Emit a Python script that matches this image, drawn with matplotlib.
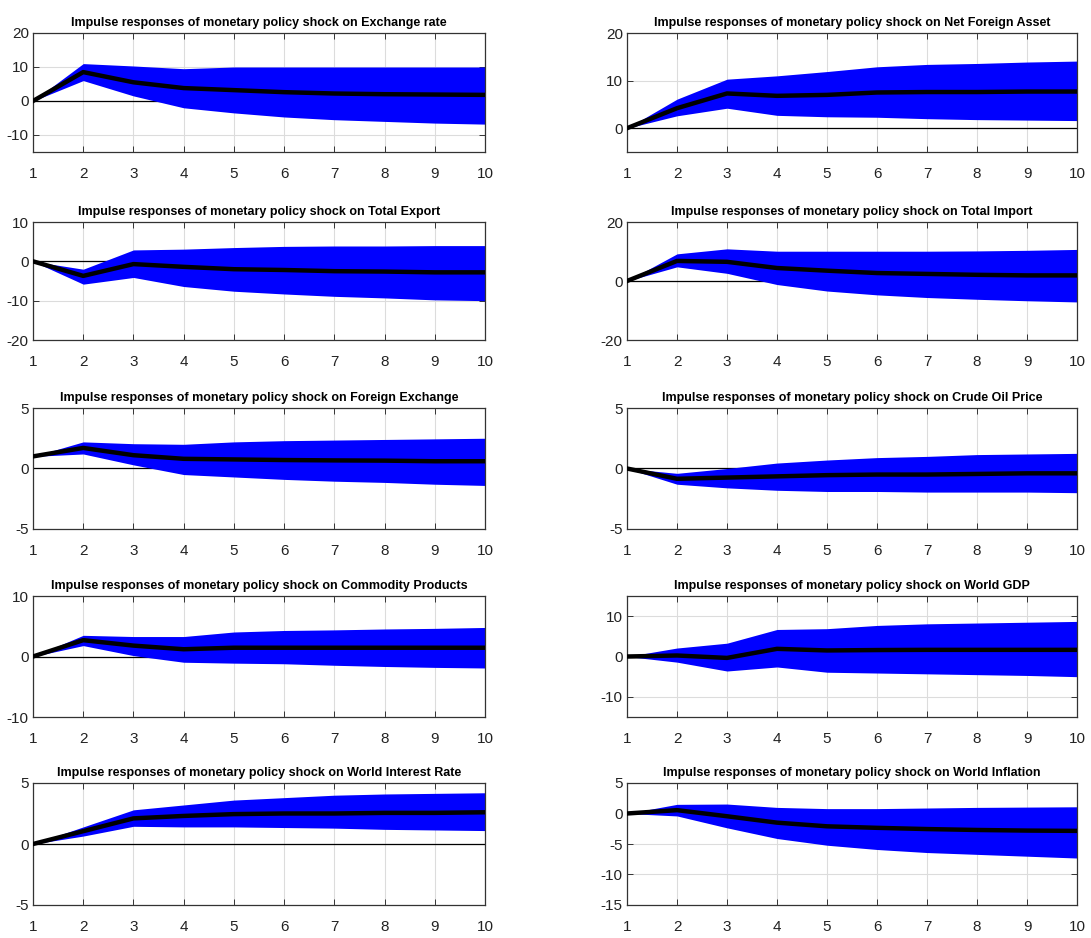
import numpy as np
import matplotlib
matplotlib.use("Agg")
import matplotlib.pyplot as plt

plt.rcParams['font.family'] = ['Liberation Sans', 'DejaVu Sans']
plt.rcParams['axes.unicode_minus'] = False

horizon = [1, 2, 3, 4, 5, 6, 7, 8, 9, 10]

# response = median line, lo / hi = band
exch_med = [0, 8.5, 5.5, 3.8, 3.2, 2.6, 2.2, 2.0, 1.9, 1.8]
exch_hi = [0, 11.0, 10.3, 9.5, 10.0, 10.0, 10.0, 10.0, 10.0, 10.0]
exch_lo = [0, 6.0, 1.5, -2.0, -3.5, -4.7, -5.5, -6.0, -6.5, -6.8]

nfa_med = [0, 4.2, 7.3, 6.8, 7.0, 7.5, 7.6, 7.6, 7.7, 7.7]
nfa_hi = [0, 6.1, 10.3, 11.0, 11.9, 12.9, 13.4, 13.6, 13.9, 14.1]
nfa_lo = [0, 2.6, 4.2, 2.7, 2.4, 2.3, 2.0, 1.8, 1.7, 1.6]

exp_med = [0, -3.7, -0.7, -1.4, -2.0, -2.2, -2.5, -2.6, -2.8, -2.8]
exp_hi = [0, -2.0, 2.9, 3.1, 3.5, 3.8, 3.9, 3.9, 4.0, 4.0]
exp_lo = [0, -5.8, -4.1, -6.4, -7.6, -8.3, -8.9, -9.3, -9.8, -10.0]

imp_med = [0, 6.8, 6.5, 4.4, 3.5, 2.7, 2.4, 2.1, 1.9, 1.9]
imp_hi = [0, 9.2, 10.9, 10.1, 10.1, 10.1, 10.1, 10.2, 10.4, 10.7]
imp_lo = [0, 4.8, 2.6, -1.2, -3.4, -4.7, -5.6, -6.2, -6.7, -7.1]

fx_med = [1.0, 1.7, 1.1, 0.8, 0.75, 0.7, 0.67, 0.65, 0.6, 0.6]
fx_hi = [1.0, 2.2, 2.05, 2.0, 2.2, 2.3, 2.35, 2.4, 2.45, 2.5]
fx_lo = [1.0, 1.2, 0.3, -0.5, -0.7, -0.9, -1.05, -1.15, -1.3, -1.4]

oil_med = [0, -0.85, -0.75, -0.65, -0.55, -0.5, -0.5, -0.45, -0.4, -0.4]
oil_hi = [0, -0.4, 0.0, 0.45, 0.7, 0.9, 1.0, 1.15, 1.2, 1.25]
oil_lo = [0, -1.3, -1.6, -1.8, -1.9, -1.9, -1.95, -1.95, -1.95, -2.0]

com_med = [0, 2.7, 1.8, 1.2, 1.45, 1.45, 1.45, 1.45, 1.45, 1.45]
com_hi = [0, 3.5, 3.3, 3.3, 4.05, 4.3, 4.4, 4.55, 4.65, 4.8]
com_lo = [0, 1.8, 0.15, -0.95, -1.1, -1.2, -1.45, -1.65, -1.8, -1.9]

gdp_med = [0, 0.25, -0.35, 1.9, 1.5, 1.6, 1.65, 1.65, 1.65, 1.65]
gdp_hi = [0, 2.1, 3.3, 6.7, 6.9, 7.7, 8.1, 8.3, 8.5, 8.7]
gdp_lo = [0, -1.4, -3.6, -2.6, -3.9, -4.1, -4.3, -4.5, -4.7, -5.0]

wir_med = [0, 1.05, 2.1, 2.3, 2.45, 2.5, 2.5, 2.55, 2.55, 2.6]
wir_hi = [0, 1.4, 2.8, 3.2, 3.6, 3.8, 4.0, 4.1, 4.15, 4.2]
wir_lo = [0, 0.65, 1.45, 1.4, 1.4, 1.35, 1.3, 1.2, 1.15, 1.1]

infl_med = [0, 0.55, -0.45, -1.5, -2.1, -2.35, -2.55, -2.7, -2.8, -2.85]
infl_hi = [0, 1.5, 1.55, 1.0, 0.8, 0.8, 0.9, 1.0, 1.05, 1.1]
infl_lo = [0, -0.4, -2.35, -4.1, -5.2, -5.9, -6.4, -6.7, -7.0, -7.3]

variables = ["Exchange rate", "Net Foreign Asset", "Total Export", "Total Import",
             "Foreign Exchange", "Crude Oil Price", "Commodity Products", "World GDP",
             "World Interest Rate", "World Inflation"]
medians = [exch_med, nfa_med, exp_med, imp_med, fx_med, oil_med, com_med, gdp_med, wir_med, infl_med]
uppers = [exch_hi, nfa_hi, exp_hi, imp_hi, fx_hi, oil_hi, com_hi, gdp_hi, wir_hi, infl_hi]
lowers = [exch_lo, nfa_lo, exp_lo, imp_lo, fx_lo, oil_lo, com_lo, gdp_lo, wir_lo, infl_lo]
ylims = [(-15, 20), (-5, 20), (-20, 10), (-20, 20), (-5, 5),
         (-5, 5), (-10, 10), (-15, 15), (-5, 5), (-15, 5)]
yticks = [[-10, 0, 10, 20], [0, 10, 20], [-20, -10, 0, 10], [-20, 0, 20], [-5, 0, 5],
          [-5, 0, 5], [-10, 0, 10], [-10, 0, 10], [-5, 0, 5], [-15, -10, -5, 0, 5]]

W, H = 1091, 938
fig = plt.figure(figsize=(W / 100, H / 100), dpi=100)

# pixel boxes (top, bottom) per row, (left, right) per column
rows = [(33, 152), (222, 340), (408, 529), (596, 717), (783, 905)]
cols = [(33, 485), (627, 1077)]

for i in range(10):
    r, c = i // 2, i % 2
    top, bot = rows[r]
    left, right = cols[c]
    ax = fig.add_axes([left / W, 1 - bot / H, (right - left) / W, (bot - top) / H])

    ax.fill_between(horizon, lowers[i], uppers[i], color=(0, 0, 1), linewidth=0, zorder=2)
    ax.plot(horizon, medians[i], color='black', linewidth=3.2, zorder=3)
    ax.axhline(0, color='black', linewidth=0.9, zorder=1)

    ax.set_xlim(1, 10)
    ax.set_ylim(*ylims[i])
    ax.set_xticks(horizon)
    ax.set_yticks(yticks[i])
    ax.grid(True, color='#dcdcdc', linewidth=0.8, zorder=0)
    ax.set_axisbelow(True)
    ax.tick_params(direction='in', top=True, right=True, length=4, width=0.7,
                   color='#333333', labelsize=11, labelcolor='#222222')
    ax.tick_params(axis='x', pad=11)
    ax.tick_params(axis='y', pad=3)
    for s in ax.spines.values():
        s.set_color('#333333')
        s.set_linewidth(0.9)
    ax.set_title("Impulse responses of monetary policy shock on " + variables[i],
                 fontsize=9, fontweight='bold', pad=5)

fig.savefig("out.png", dpi=100, facecolor='white')
